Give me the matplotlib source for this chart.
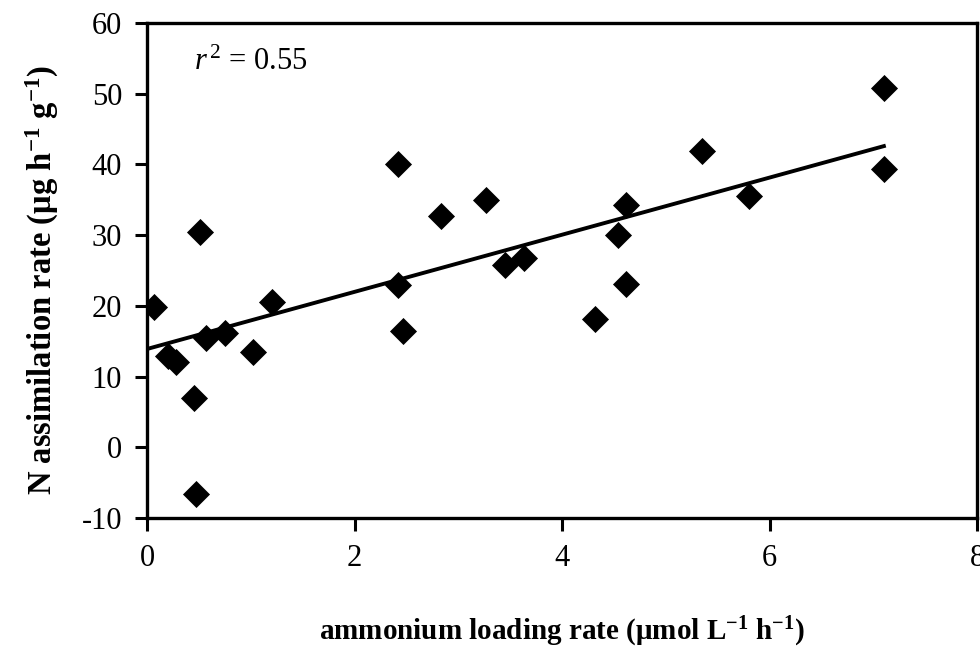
import numpy as np
import matplotlib
matplotlib.use("Agg")
import matplotlib.pyplot as plt

plt.rcParams['font.family'] = ['Liberation Serif', 'DejaVu Serif']
plt.rcParams['mathtext.fontset'] = 'custom'
plt.rcParams['mathtext.rm'] = 'Liberation Serif'
plt.rcParams['mathtext.it'] = 'Liberation Serif:italic'
plt.rcParams['mathtext.bf'] = 'Liberation Serif:bold'

loading_rate = [0.07, 0.20, 0.28, 0.45, 0.47, 0.51, 0.57, 0.75, 1.02, 1.20,
                2.42, 2.42, 2.47, 2.83, 3.27, 3.45, 3.63, 4.32, 4.54, 4.62,
                4.62, 5.35, 5.80, 7.10, 7.10]
assim_rate = [19.8, 12.9, 12.0, 7.0, -6.6, 30.5, 15.4, 16.2, 13.5, 20.6,
              40.0, 22.9, 16.5, 32.7, 34.9, 25.8, 26.7, 18.1, 30.0, 34.3,
              23.1, 41.9, 35.6, 50.8, 39.4]
# regression line as drawn in the figure
fit_intercept = 13.9
fit_slope = 4.04
x_ticks = [0, 2, 4, 6, 8]
y_ticks = [-10, 0, 10, 20, 30, 40, 50, 60]
r2_text = r"$\it{r}^{\,\rm{2}}$ = 0.55"

x = np.array(loading_rate)
y = np.array(assim_rate)

fig = plt.figure(figsize=(9.8, 6.48), dpi=100)
ax = fig.add_axes([0.150, 0.2006, 0.847, 0.7639])

ax.scatter(x, y, marker='D', s=190, color='black', zorder=3, linewidths=0)
xf = np.array([0, x.max() + 0.02])
ax.plot(xf, fit_intercept + fit_slope * xf, color='black', lw=2.8, zorder=2,
        solid_capstyle='butt')

ax.set_xlim(0, 8)
ax.set_ylim(-10, 60)
ax.set_xticks(x_ticks)
ax.set_yticks(y_ticks)
ax.set_yticklabels([str(v).replace('\u2212', '-') for v in y_ticks])
ax.tick_params(axis='both', direction='out', length=9, width=2.2,
               labelsize=22)
ax.tick_params(axis='x', pad=10)
ax.tick_params(axis='y', pad=9)
for s in ax.spines.values():
    s.set_linewidth(2.4)

ax.set_xlabel("ammonium loading rate (μmol L$^{\\mathbf{-1}}$ h$^{\\mathbf{-1}}$)",
              fontsize=21, fontweight='bold', labelpad=30)
ax.set_ylabel("N assimilation rate (μg h$^{\\mathbf{-1}}$ g$^{\\mathbf{-1}}$)",
              fontsize=23.5, fontweight='bold')
ax.yaxis.set_label_coords(-0.104, 0.48)

ax.text(0.45, 54.4, r2_text, fontsize=22, va='center', ha='left')

fig.savefig("out.png", dpi=100)
